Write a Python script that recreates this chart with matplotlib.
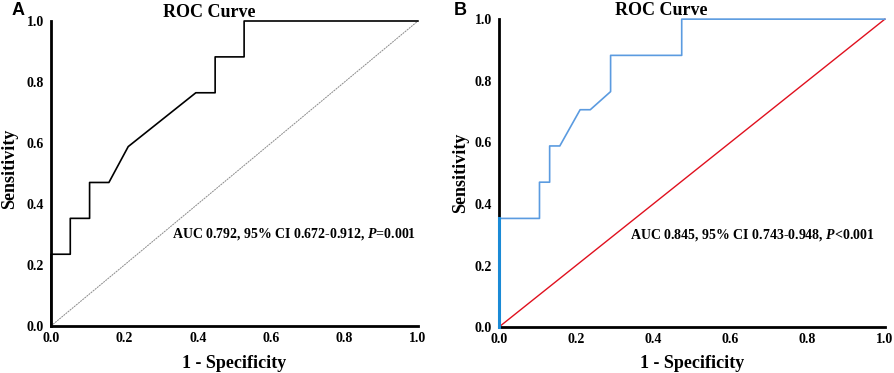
import matplotlib
matplotlib.use("Agg")
import matplotlib.pyplot as plt

plt.rcParams["mathtext.fontset"] = "custom"
plt.rcParams["mathtext.bfit"] = "Liberation Serif:italic:bold"
plt.rcParams["mathtext.rm"] = "Liberation Serif:bold"

# ROC curve points (1 - specificity, sensitivity)
fpr_a = [0.0, 0.0, 1/19, 1/19, 2/19, 2/19, 3/19, 4/19, 7.5/19, 8.5/19, 8.5/19, 10/19, 10/19, 1.0]
tpr_a = [0.0, 4/17, 4/17, 6/17, 6/17, 8/17, 8/17, 10/17, 13/17, 13/17, 15/17, 15/17, 1.0, 1.0]

fpr_b = [0.0, 0.0, 2/19, 2/19, 2.5/19, 2.5/19, 3/19, 4/19, 4.5/19, 5.5/19, 5.5/19, 9/19, 9/19, 1.0]
tpr_b = [0.0, 6/17, 6/17, 8/17, 8/17, 10/17, 10/17, 12/17, 12/17, 13/17, 15/17, 15/17, 1.0, 1.0]

ticks = [0.0, 0.2, 0.4, 0.6, 0.8, 1.0]
tick_labels = ["0.0", "0.2", "0.4", "0.6", "0.8", "1.0"]

serif = "Liberation Serif"

fig = plt.figure(figsize=(8.94, 3.73), dpi=100)
ax_a = fig.add_axes([0.057, 0.126, 0.4105, 0.8177])
ax_b = fig.add_axes([0.558, 0.123, 0.4318, 0.8257])


def style_axes(ax, ylab_xy, xlab_y):
    ax.set_xlim(0, 1)
    ax.set_ylim(0, 1)
    for side in ("top", "right"):
        ax.spines[side].set_visible(False)
    for side in ("left", "bottom"):
        ax.spines[side].set_linewidth(2.0)
        ax.spines[side].set_color("black")
    ax.set_xticks(ticks)
    ax.set_yticks(ticks)
    ax.set_xticklabels(tick_labels, fontfamily=serif, fontweight="bold", fontsize=10)
    ax.set_yticklabels(tick_labels, fontfamily=serif, fontweight="bold", fontsize=10)
    ax.tick_params(length=0, pad=5)
    ax.tick_params(axis="x", pad=4)
    ax.set_xlabel("1 - Specificity", fontfamily=serif, fontweight="bold", fontsize=13)
    ax.set_ylabel("Sensitivity", fontfamily=serif, fontweight="bold", fontsize=13)
    ax.yaxis.set_label_coords(*ylab_xy)
    ax.xaxis.set_label_coords(0.5, xlab_y)


# panel A
style_axes(ax_a, (-0.090, 0.515), -0.095)
ax_a.plot([0, 1], [0, 1], color="#8a8a8a", lw=0.7, ls=(0, (2, 0.8)), clip_on=False)
ax_a.plot(fpr_a, tpr_a, color="black", lw=1.2, clip_on=False, zorder=3)
ax_a.text(0.33, 0.30, "AUC 0.792, 95% CI 0.672-0.912, $\\bfit{P}$=0.001",
          fontfamily=serif, fontweight="bold", fontsize=10, va="center")
ax_a.set_title("ROC Curve", fontfamily=serif, fontweight="bold", fontsize=13, x=0.43, pad=2)
fig.text(0.013, 0.972, "A", fontfamily="Liberation Sans", fontweight="bold", fontsize=13, va="center")

# panel B
style_axes(ax_b, (-0.077, 0.5), -0.091)
ax_b.plot([0, 1], [0, 1], color="#e0101e", lw=1.0, clip_on=False)
ax_b.plot(fpr_b, tpr_b, color="#5b9be0", lw=1.2, clip_on=False, zorder=3)
ax_b.plot([0, 0], [0, 6/17], color="#1a8ad6", lw=2.2, clip_on=False, zorder=4)
ax_b.text(0.34, 0.30, "AUC 0.845, 95% CI 0.743-0.948, $\\bfit{P}$<0.001",
          fontfamily=serif, fontweight="bold", fontsize=10, va="center")
ax_b.set_title("ROC Curve", fontfamily=serif, fontweight="bold", fontsize=13, x=0.42, pad=2)
fig.text(0.507, 0.972, "B", fontfamily="Liberation Sans", fontweight="bold", fontsize=13, va="center")

fig.savefig("out.png", dpi=100)
